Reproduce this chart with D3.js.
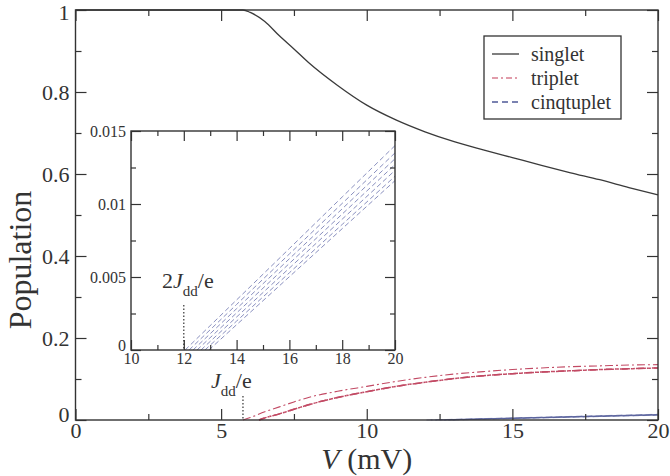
<!DOCTYPE html>
<html><head><meta charset="utf-8">
<script src="https://cdn.jsdelivr.net/npm/d3@7"></script>
<style>
html,body{margin:0;padding:0;background:#fff;}
svg{display:block;}
svg text{font-family:"Liberation Serif","Times New Roman",serif;}
</style></head><body>
<svg id="chart" width="670" height="476"></svg>
<script>
// Bias voltage grid (mV) and populations of the spin states
const voltage = [0, 5.75, 6.0, 6.5, 7.0, 7.5, 8, 9, 10, 11, 12, 13, 14, 15, 16, 17, 18, 19, 20];
const singlet = [1, 1, 0.994, 0.972, 0.937, 0.905, 0.872, 0.816, 0.768, 0.732, 0.703, 0.679, 0.659, 0.64, 0.621, 0.603, 0.586, 0.567, 0.549];

const tripletUpperV = [5.75, 6.0, 6.5, 7, 7.5, 8, 9, 10, 11, 12, 13, 14, 15, 16, 17, 18, 19, 20];
const tripletUpper = [0, 0.006, 0.02, 0.032, 0.044, 0.055, 0.07, 0.082, 0.094, 0.104, 0.112, 0.118, 0.123, 0.127, 0.13, 0.132, 0.134, 0.135];
const tripletLowerV = [6.3, 6.5, 7, 7.5, 8, 9, 10, 11, 12, 13, 14, 15, 16, 17, 18, 19, 20];
const tripletLower = [0, 0.005, 0.015, 0.026, 0.037, 0.055, 0.069, 0.082, 0.092, 0.101, 0.108, 0.113, 0.117, 0.12, 0.123, 0.125, 0.127];

// Quintuplet branches: onset voltage, then values at cinqV
const cinqV = [14, 16, 18, 20];
const cinqOnsets = [12.05, 12.2, 12.35, 12.5, 12.65, 12.8, 12.95];
const cinqValues = [
  [0.00343, 0.00695, 0.01048, 0.0140],
  [0.00312, 0.00658, 0.01004, 0.0135],
  [0.00283, 0.00625, 0.00967, 0.0131],
  [0.00254, 0.00593, 0.00931, 0.0127],
  [0.00226, 0.00561, 0.00896, 0.0123],
  [0.00198, 0.00529, 0.00860, 0.0119],
  [0.00173, 0.00502, 0.00831, 0.0116]
];

const xTicks = [0, 5, 10, 15, 20];
const xMinor = [2.5, 7.5, 12.5, 17.5];
const yTicks = [0, 0.2, 0.4, 0.6, 0.8, 1];
const yMinor = [0.1, 0.3, 0.5, 0.7, 0.9];
const insetXTicks = [10, 12, 14, 16, 18, 20];
const insetXMinor = [11, 13, 15, 17, 19];
const insetYTicks = [0, 0.005, 0.01, 0.015];
const insetYMinor = [0.0025, 0.0075, 0.0125];
const legendLabels = ["singlet", "triplet", "cinqtuplet"];

const jddMain = 5.75;   // J_dd / e
const jddInset = 12;    // 2 J_dd / e

const FONT = '"Liberation Serif", "Times New Roman", serif';
const ink = "#333";
const colSinglet = "#3a3a3a";
const colTriplet = "#c24a64";
const colCinq = "#4f5a98";

const svg = d3.select("#chart");
svg.append("rect").attr("width", 670).attr("height", 476).attr("fill", "#fff");

const m = {left: 75.5, right: 658, top: 10, bottom: 420};
const x = d3.scaleLinear().domain([0, 20]).range([m.left, m.right]);
const y = d3.scaleLinear().domain([0, 1]).range([m.bottom, m.top]);

const line = (xs, ys, sx, sy, curve) => d3.line()
  .x((d, i) => sx(xs[i])).y(d => sy(d)).curve(curve || d3.curveLinear)(ys);

// ---- main curves
const plot = svg.append("g");
plot.append("path").attr("d", line(voltage, singlet, x, y, d3.curveMonotoneX))
  .attr("fill", "none").attr("stroke", colSinglet).attr("stroke-width", 1.3);
plot.append("path").attr("d", line(tripletUpperV, tripletUpper, x, y, d3.curveMonotoneX))
  .attr("fill", "none").attr("stroke", colTriplet).attr("stroke-width", 1.1)
  .attr("stroke-dasharray", "8,3,2,3");
// two degenerate branches share this curve
[0, 1].forEach(k => {
  plot.append("path").attr("d", line(tripletLowerV, tripletLower, x, y, d3.curveMonotoneX))
    .attr("fill", "none").attr("stroke", colTriplet).attr("stroke-width", 1.5)
    .attr("stroke-dasharray", "8,3,2,3").attr("stroke-dashoffset", k * 2);
});
cinqValues.forEach((vals, i) => {
  const xs = [cinqOnsets[i]].concat(cinqV);
  const ys = [0].concat(vals);
  plot.append("path").attr("d", line(xs, ys, x, y))
    .attr("fill", "none").attr("stroke", colCinq).attr("stroke-width", 0.9)
    .attr("stroke-opacity", 0.7).attr("stroke-dasharray", "6,4");
});

// ---- axes (ticks inward on all four sides)
function styleAxis(g, fs) {
  g.attr("font-family", FONT);
  g.select(".domain").remove();
  g.selectAll("line").attr("stroke", ink).attr("stroke-width", 1.2);
  g.selectAll("text").attr("fill", ink).attr("font-size", fs)
    .style("font-family", FONT);
}
function frameAxes(sx, sy, box, major, minor, big, small, fs, padX, padY) {
  svg.append("g").attr("transform", `translate(0,${box.bottom})`)
    .call(d3.axisBottom(sx).tickValues(major.x).tickSize(-big).tickPadding(padX).tickFormat(d3.format("d")))
    .call(g => styleAxis(g, fs));
  svg.append("g").attr("transform", `translate(0,${box.bottom})`)
    .call(d3.axisBottom(sx).tickValues(minor.x).tickSize(-small).tickFormat(""))
    .call(g => styleAxis(g, fs));
  svg.append("g").attr("transform", `translate(0,${box.top})`)
    .call(d3.axisTop(sx).tickValues(major.x).tickSize(-big).tickFormat(""))
    .call(g => styleAxis(g, fs));
  svg.append("g").attr("transform", `translate(0,${box.top})`)
    .call(d3.axisTop(sx).tickValues(minor.x).tickSize(-small).tickFormat(""))
    .call(g => styleAxis(g, fs));
  const left = svg.append("g").attr("transform", `translate(${box.left},0)`)
    .call(d3.axisLeft(sy).tickValues(major.y).tickSize(-big).tickPadding(padY).tickFormat(d => d3.format("~g")(d)))
    .call(g => styleAxis(g, fs));
  // the zero label sits a little above the corner, the top label a little below
  left.selectAll(".tick").filter(d => d === 0).select("text").attr("dy", "0.05em");
  left.selectAll(".tick").filter(d => d === sy.domain()[1] && sy.domain()[1] === 1)
    .select("text").attr("dy", "0.42em");
  svg.append("g").attr("transform", `translate(${box.left},0)`)
    .call(d3.axisLeft(sy).tickValues(minor.y).tickSize(-small).tickFormat(""))
    .call(g => styleAxis(g, fs));
  svg.append("g").attr("transform", `translate(${box.right},0)`)
    .call(d3.axisRight(sy).tickValues(major.y).tickSize(-big).tickFormat(""))
    .call(g => styleAxis(g, fs));
  svg.append("g").attr("transform", `translate(${box.right},0)`)
    .call(d3.axisRight(sy).tickValues(minor.y).tickSize(-small).tickFormat(""))
    .call(g => styleAxis(g, fs));
  svg.append("rect").attr("x", box.left).attr("y", box.top)
    .attr("width", box.right - box.left).attr("height", box.bottom - box.top)
    .attr("fill", "none").attr("stroke", ink).attr("stroke-width", 1.4);
}
frameAxes(x, y, m, {x: xTicks, y: yTicks}, {x: xMinor, y: yMinor}, 11, 6, 22, 2, 6);

// axis titles
const xt = svg.append("text").attr("x", (m.left + m.right) / 2).attr("y", 469)
  .attr("text-anchor", "middle").attr("font-size", 30).attr("fill", ink).style("font-family", FONT);
xt.append("tspan").attr("font-style", "italic").text("V");
xt.append("tspan").text(" (mV)");
svg.append("text").attr("transform", "translate(31,260) rotate(-90)")
  .attr("text-anchor", "middle").attr("font-size", 32).attr("fill", ink)
  .style("font-family", FONT).text("Population");

// J_dd/e marker
svg.append("line").attr("x1", x(jddMain)).attr("x2", x(jddMain))
  .attr("y1", 396).attr("y2", y(0)).attr("stroke", ink).attr("stroke-width", 1.2)
  .attr("stroke-dasharray", "1.5,2");
const jl = svg.append("text").attr("x", 211).attr("y", 388).attr("font-size", 22)
  .attr("fill", ink).style("font-family", FONT);
jl.append("tspan").attr("font-style", "italic").text("J");
jl.append("tspan").attr("font-size", 15).attr("dy", 8).text("dd");
jl.append("tspan").attr("dy", -8).text("/e");

// ---- legend
const lg = svg.append("g");
lg.append("rect").attr("x", 484).attr("y", 36).attr("width", 137).attr("height", 83)
  .attr("fill", "#fff").attr("stroke", ink).attr("stroke-width", 1.3);
const legendStyles = [
  {c: colSinglet, d: null},
  {c: "#d77c8e", d: "6,3,2,3"},
  {c: colCinq, d: "6,4"}
];
legendLabels.forEach((lab, i) => {
  const yy = 54 + i * 24;
  const l = lg.append("line").attr("x1", 492).attr("x2", 519).attr("y1", yy).attr("y2", yy)
    .attr("stroke", legendStyles[i].c).attr("stroke-width", 1.3);
  if (legendStyles[i].d) l.attr("stroke-dasharray", legendStyles[i].d);
  lg.append("text").attr("x", 531).attr("y", yy).attr("dy", "0.33em")
    .attr("font-size", 20).attr("fill", ink).style("font-family", FONT).text(lab);
});

// ---- inset
const ins = {left: 131, right: 395, top: 131, bottom: 350};
const xi = d3.scaleLinear().domain([10, 20]).range([ins.left, ins.right]);
const yi = d3.scaleLinear().domain([0, 0.015]).range([ins.bottom, ins.top]);
svg.append("rect").attr("x", ins.left).attr("y", ins.top)
  .attr("width", ins.right - ins.left).attr("height", ins.bottom - ins.top).attr("fill", "#fff");
svg.append("clipPath").attr("id", "insclip").append("rect")
  .attr("x", ins.left).attr("y", ins.top - 20).attr("width", ins.right - ins.left + 2).attr("height", ins.bottom - ins.top + 20);
const ig = svg.append("g").attr("clip-path", "url(#insclip)");
cinqValues.forEach((vals, i) => {
  const xs = [cinqOnsets[i]].concat(cinqV);
  const ys = [0].concat(vals);
  ig.append("path").attr("d", line(xs, ys, xi, yi))
    .attr("fill", "none").attr("stroke", "#8a90bf").attr("stroke-width", 1)
    .attr("stroke-dasharray", "5,3");
});
frameAxes(xi, yi, ins, {x: insetXTicks, y: insetYTicks}, {x: insetXMinor, y: insetYMinor}, 10, 5, 16, 3, 5);

// 2J_dd/e marker
svg.append("line").attr("x1", xi(jddInset)).attr("x2", xi(jddInset))
  .attr("y1", 305).attr("y2", yi(0)).attr("stroke", ink).attr("stroke-width", 1.2)
  .attr("stroke-dasharray", "1.5,2");
const jl2 = svg.append("text").attr("x", 162).attr("y", 288).attr("font-size", 22)
  .attr("fill", ink).style("font-family", FONT);
jl2.append("tspan").text("2");
jl2.append("tspan").attr("font-style", "italic").text("J");
jl2.append("tspan").attr("font-size", 15).attr("dy", 8).text("dd");
jl2.append("tspan").attr("dy", -8).text("/e");
</script>
</body></html>
